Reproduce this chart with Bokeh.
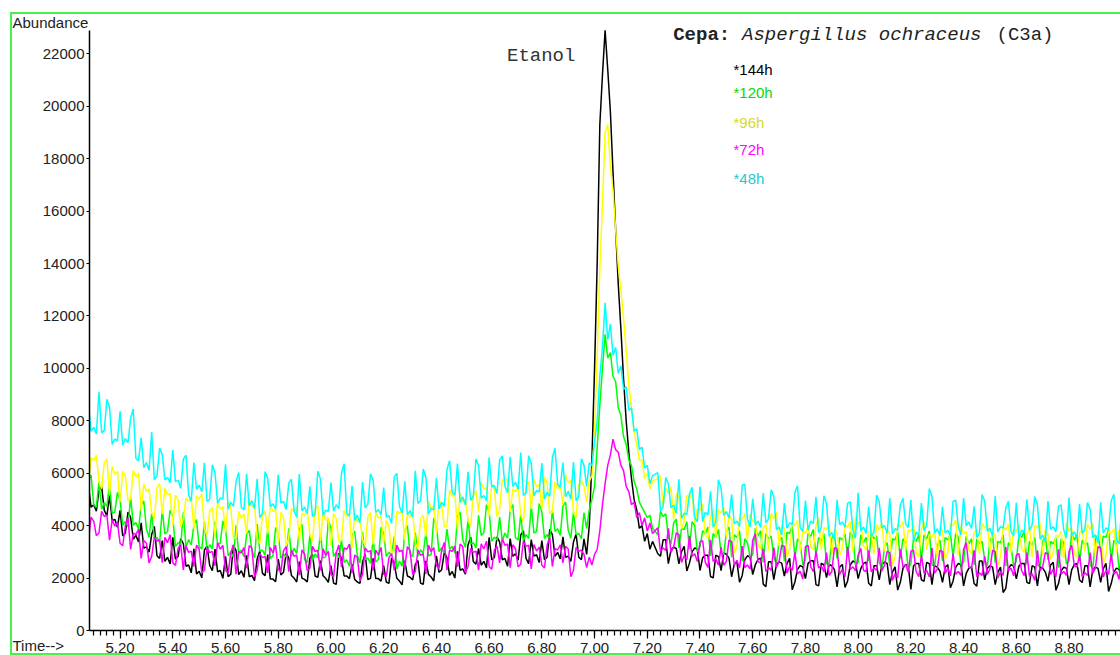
from bokeh.plotting import figure
from bokeh.models import (Range1d, SingleIntervalTicker, PrintfTickFormatter, Label, Title,
                          InlineStyleSheet)
from bokeh.embed import file_html
from bokeh.resources import INLINE

# ---------------- data ----------------
# baseline before the peak: samples every 0.01 min from 5.08 (on-grid + in-between readings)
# peak: every 0.01 min from 6.96 ; baseline after the peak: every 0.01 min from 7.24
PRE_START = 5.08
PEAK_START = 6.96
POST_START = 7.24
STEP = 0.01

h48_pre = [8630, 7750, 9110, 7640, 8520, 7300, 8360, 7320, 8100, 6570,
           7350, 6410, 7570, 5900, 6710, 5840, 6880, 5730, 6540, 5180,
           6410, 5540, 6400, 5020, 6020, 5060, 6340, 4890, 5680, 4700,
           5980, 4950, 5790, 4460, 5810, 4830, 5950, 4920, 5620, 4570,
           5970, 4710, 5500, 4450, 5780, 4590, 5640, 4800, 6010, 4470,
           5520, 4400, 5660, 4820, 5730, 4610, 5450, 4380, 5850, 4730,
           5690, 4570, 6090, 4950, 5860, 4650, 5820, 4890, 6130, 5270,
           6370, 5090, 6050, 5120, 6290, 5150, 6600, 5530, 6510, 5510,
           6630, 5650, 6790, 5250, 6370, 5340, 6390, 5270, 6600, 5570,
           6410, 5310, 6430, 5100]
h48_pre_mid = [7600, 7500, 7540, 8820, 7100, 7250, 7070, 7170, 8450, 6470,
               6210, 6110, 5750, 6960, 5740, 5640, 5680, 5430, 6690, 4930,
               5390, 5290, 4920, 6320, 4860, 5010, 4640, 4740, 6030, 4600,
               4750, 4650, 4310, 6060, 4730, 4630, 4870, 4620, 5770, 4320,
               4560, 4460, 4350, 6080, 4390, 4540, 4550, 4650, 6360, 4370,
               4200, 4100, 4670, 5980, 4510, 4410, 4330, 4080, 6000, 4480,
               4420, 4320, 4850, 6160, 4450, 4600, 4640, 4740, 6480, 5170,
               4890, 4790, 4970, 6540, 5050, 4950, 5480, 5230, 6660, 5260,
               5500, 5400, 5150, 6670, 5140, 5290, 5020, 5120, 6950, 5470,
               5110, 5010, 4950, 6550]
h48_peak = [6300, 5500, 6400, 6300, 7200, 8000, 9700, 10800, 12500, 11100,
            11700, 10500, 10800, 9800, 10100, 9200, 9300, 8400, 8500, 7600,
            7700, 6900, 7000, 6200, 6300, 5600, 5900]
h48_post = [6020, 4720, 5590, 4780, 5770, 4480, 5210, 4300, 5490, 4510,
            5310, 4140, 5450, 4540, 5190, 4170, 5530, 4250, 5030, 4180,
            5240, 4260, 5120, 3950, 4860, 4100, 5270, 3920, 4960, 4180,
            5100, 3930, 4840, 3740, 4990, 4140, 4860, 3820, 5250, 3950,
            4730, 3750, 4920, 4010, 5050, 3880, 4790, 4080, 4990, 3750,
            4860, 4010, 5120, 3880, 4730, 3820, 4920, 3950, 5050, 4140,
            4740, 3700, 4940, 3900, 5130, 3960, 4680, 3770, 4870, 3830,
            5000, 4030, 4810, 3640, 4940, 3960, 4740, 3830, 5070, 3770,
            4820, 3850, 4630, 3650, 4890, 3910, 4950, 3460, 4760]
h48_post_mid = [4570, 5840, 4680, 4480, 4280, 4430, 5460, 4150, 4160, 4410,
                3940, 5750, 4390, 4290, 4070, 3970, 5580, 3950, 4030, 3930,
                4110, 5370, 3850, 3650, 3900, 4050, 5520, 3770, 3830, 4080,
                3730, 5140, 3590, 3490, 4040, 3940, 4910, 3520, 3800, 3700,
                3600, 5170, 3910, 3710, 3680, 3830, 5040, 3930, 3400, 3650,
                3810, 5420, 3730, 3630, 3720, 3620, 4970, 3650, 3990, 3890,
                3550, 5190, 3800, 3600, 3760, 3910, 4930, 3620, 3480, 3730,
                3830, 5110, 3490, 3390, 3860, 3760, 4790, 3530, 3620, 3520,
                3700, 4880, 3550, 3350, 3710, 3860, 5200, 3310]

h96_pre = [5580, 6490, 5660, 6400, 5220, 5960, 4900, 5880, 5000, 5860,
           4560, 5300, 4480, 5450, 4440, 5180, 3990, 4970, 4260, 4940,
           3870, 5020, 3890, 4550, 3600, 4630, 3730, 4700, 3560, 4290,
           3690, 4710, 3520, 4420, 3700, 4540, 3350, 4310, 3530, 4550,
           3410, 4380, 3660, 4620, 3420, 4200, 3250, 4270, 3440, 4340,
           3140, 4160, 3450, 4350, 3270, 4290, 3330, 3990, 3200, 4460,
           3440, 4330, 3360, 4250, 3580, 4650, 3670, 4790, 4000, 5120,
           3850, 4910, 4180, 5180, 4510, 5400, 4360, 5370, 4640, 5660,
           4520, 5300, 4400, 5540, 4640, 5480, 4630, 5650, 4510, 5410,
           4800, 5640, 4500, 5570]
h96_pre_mid = [6590, 6690, 5410, 6550, 6260, 6060, 6080, 4950, 6110, 6010,
               5600, 5400, 4280, 5600, 5430, 5230, 5170, 3960, 5040, 5090,
               5120, 5220, 3640, 4700, 4930, 4730, 4900, 3510, 4540, 4440,
               5010, 4810, 3320, 4570, 4790, 4590, 4510, 3230, 4650, 4700,
               4480, 4580, 3410, 4770, 4500, 4300, 4470, 3390, 4590, 4490,
               4460, 4260, 3250, 4500, 4540, 4340, 4190, 2900, 4560, 4610,
               4430, 4530, 3110, 4400, 4950, 4750, 4990, 3950, 5370, 5270,
               5210, 5010, 3980, 5330, 5650, 5450, 5570, 4340, 5760, 5810,
               5400, 5500, 4150, 5690, 5780, 5580, 5850, 4460, 5660, 5560,
               5940, 5740, 4300, 5720]
h96_peak = [5500, 4900, 5700, 5900, 7600, 10500, 13800, 16300, 19000, 19300,
            17700, 16800, 15300, 13900, 13000, 11900, 10700, 9400, 8500, 7600,
            7100, 6500, 6500, 5800, 6000, 5400, 5700]
h96_post = [5800, 4770, 5230, 4250, 5090, 4170, 5060, 4080, 4580, 3660,
            4320, 3560, 4500, 3570, 4240, 3200, 4250, 3480, 4140, 3270,
            3930, 3050, 4260, 3220, 3880, 3110, 4000, 3010, 3720, 3230,
            4000, 3070, 3840, 2900, 3730, 3120, 3950, 3010, 4060, 3230,
            3730, 2910, 3840, 3020, 3680, 2800, 3950, 3070, 3790, 2960,
            3850, 3080, 3570, 2800, 3790, 2970, 4010, 2860, 3680, 3080,
            3740, 2910, 3900, 3020, 3630, 2800, 3850, 2970, 3790, 3130,
            3630, 2810, 3910, 2860, 3690, 2970, 3580, 2750, 3800, 2920,
            3740, 3030, 3850, 2810, 3630, 2860, 3690, 2970, 3800]
h96_post_mid = [5900, 5430, 5480, 5240, 3870, 5160, 5260, 4630, 4830, 3510,
                4620, 4600, 4700, 4390, 2950, 4300, 4450, 4440, 4240, 3120,
                4030, 4460, 4510, 4030, 2810, 4100, 4200, 3770, 3970, 3080,
                4300, 3940, 4040, 3880, 2870, 4000, 4150, 4360, 4160, 3080,
                3830, 4040, 4090, 3830, 2500, 4050, 4150, 3840, 4040, 2810,
                4150, 3670, 3770, 3940, 2720, 4060, 4210, 3980, 3780, 2930,
                3840, 4100, 4150, 3780, 2500, 3950, 4050, 3840, 4040, 2980,
                3930, 4010, 4110, 3840, 2720, 3630, 3780, 4100, 3900, 2770,
                3840, 4050, 4100, 3780, 2560, 3790, 3890, 3850]

h120_pre = [5730, 4800, 5690, 4880, 5610, 4520, 4970, 4160, 5100, 4120,
            4790, 3860, 4480, 3550, 4600, 3780, 4340, 3350, 4510, 3470,
            4030, 3210, 4140, 3270, 4150, 3330, 3880, 3000, 4000, 3060,
            3670, 3070, 4060, 3070, 3840, 2850, 3680, 2910, 3900, 3130,
            3850, 2700, 3630, 2920, 3740, 2810, 3910, 2980, 3470, 2700,
            3640, 2870, 3750, 2760, 3480, 2710, 3700, 2980, 3580, 2650,
            3800, 2920, 3740, 3080, 3730, 2900, 3990, 3160, 3870, 3210,
            4360, 3470, 4240, 3350, 4390, 3730, 4550, 3560, 4330, 3720,
            4600, 3550, 4430, 3660, 4760, 3770, 4540, 3660, 4590, 3880,
            4750, 3820, 4530, 3700]
h120_pre_mid = [5930, 4700, 4630, 4730, 4470, 5270, 4010, 3960, 4020, 3870,
                4940, 3560, 3500, 3350, 3680, 4590, 3200, 3250, 3170, 3270,
                4230, 3110, 3020, 3120, 3280, 4180, 2850, 2800, 2960, 2810,
                3820, 2770, 3020, 2870, 2750, 3930, 2760, 2810, 2830, 2930,
                4050, 2600, 2670, 2770, 2760, 4210, 2830, 2780, 2600, 2450,
                3790, 2570, 2710, 2560, 2610, 3950, 2830, 2880, 2350, 2450,
                4000, 2820, 2830, 2930, 2850, 4290, 3010, 2960, 3110, 2960,
                4510, 3170, 3300, 3150, 3630, 4800, 3410, 3460, 3420, 3520,
                4800, 3450, 3410, 3510, 3720, 4840, 3510, 3460, 3780, 3630,
                4900, 3520, 3650, 3500]
h120_peak = [4500, 3900, 4600, 5000, 5500, 7000, 8600, 10000, 11300, 10400,
             10600, 9700, 9500, 8500, 8200, 7400, 7100, 6500, 6300, 5700,
             5400, 4900, 4700, 4500, 4300, 4400, 3900]
h120_post = [3650, 4350, 3550, 4100, 3150, 3850, 3100, 4000, 3200, 3700,
             2850, 3550, 2950, 3750, 2800, 3550, 2650, 3350, 2900, 3600,
             2600, 3500, 2800, 3400, 2650, 3700, 2750, 3350, 2700, 3600,
             2850, 3400, 2550, 3500, 2750, 3450, 2800, 3600, 2600, 3350,
             2650, 3500, 2600, 3200, 2450, 3450, 2750, 3350, 2550, 3400,
             2700, 3500, 2500, 3250, 2650, 3450, 2800, 3550, 2600, 3300,
             2500, 3300, 2700, 3450, 2600, 3350, 2450, 3200, 2650, 3550,
             2550, 3250, 2500, 3400, 2700, 3300, 2400, 3350, 2650, 3450,
             2650, 3250, 2550, 3500, 3000, 3550, 2650, 3300, 2550]
h120_post_mid = [4550, 4450, 3300, 4250, 3900, 4150, 4150, 3000, 3800, 3950,
                 3700, 3850, 2900, 3950, 3650, 3800, 3500, 2800, 3900, 3800,
                 3700, 3600, 2550, 3550, 3750, 4000, 3500, 2500, 3700, 3850,
                 3550, 3700, 2500, 3700, 3550, 3700, 3750, 2500, 3650, 3550,
                 3700, 3600, 2350, 3350, 3500, 3750, 3500, 2350, 3500, 3650,
                 3650, 3800, 2450, 3450, 3550, 3700, 3700, 2500, 3600, 3500,
                 3500, 3400, 2450, 3600, 3400, 3650, 3350, 2450, 3650, 3800,
                 3400, 3550, 2450, 3600, 3400, 3550, 3500, 2550, 3750, 3650,
                 3450, 3350, 2300, 3650, 3600, 3850, 3450, 2350]

h72_pre = [3440, 4170, 3720, 4350, 3450, 3980, 3330, 4000, 3090, 3660,
           2750, 3330, 2830, 3410, 2590, 3350, 2580, 3120, 2310, 2980,
           2440, 3110, 2300, 2970, 2470, 3100, 2290, 2970, 2150, 2960,
           2380, 3140, 2290, 2780, 2200, 2960, 2330, 3050, 2240, 2830,
           2110, 2920, 2380, 3010, 2290, 2870, 2150, 2960, 2420, 3100,
           2190, 2780, 2150, 3000, 2280, 2870, 2150, 2780, 2290, 3010,
           2380, 3050, 2240, 2870, 2160, 3010, 2470, 3060, 2300, 3020,
           2430, 3200, 2440, 2980, 2300, 3110, 2440, 3070, 2580, 3250,
           2400, 3120, 2530, 3210, 2350, 3030, 2490, 3250, 2440, 3070,
           2580, 3110, 2300, 3020]
h72_pre_mid = [4320, 3620, 4550, 4400, 4230, 4130, 3230, 4300, 3710, 3860,
               3430, 2580, 3560, 3460, 3550, 3650, 2480, 3270, 3230, 3030,
               3260, 2200, 3170, 3020, 3350, 3250, 2190, 3270, 3010, 3160,
               3240, 2040, 2930, 2830, 3160, 3260, 2230, 3200, 3080, 2880,
               3070, 2280, 3210, 3060, 3120, 3020, 2050, 3260, 3150, 3300,
               2880, 1900, 3150, 3050, 3070, 3170, 2050, 2930, 3260, 3060,
               3200, 2140, 3070, 2920, 3260, 3160, 2370, 3360, 3070, 3220,
               3300, 2190, 3130, 3030, 3310, 3410, 2340, 3220, 3500, 3300,
               3270, 2430, 3410, 3260, 3280, 3180, 2390, 3550, 3120, 3270,
               3210, 2050, 3170, 3070]
h72_peak = [2900, 2400, 2800, 2500, 2900, 3100, 3800, 4800, 5600, 6300,
            6700, 7300, 6900, 6800, 6300, 6100, 5500, 5300, 4800, 4900,
            4300, 4500, 4000, 4300, 3800, 4100, 3700]
h72_post = [3920, 3150, 3900, 3180, 3670, 2850, 3610, 2930, 3380, 2610,
            3460, 2740, 3180, 2640, 3400, 2680, 3220, 2500, 3440, 2630,
            3120, 2400, 3160, 2620, 3210, 2440, 2980, 2260, 3200, 2440,
            3020, 2480, 2970, 2250, 3110, 2340, 3200, 2430, 2880, 2300,
            3060, 2390, 3150, 2480, 2970, 2160, 3110, 2520, 3020, 2250,
            2880, 2290, 3150, 2340, 3010, 2380, 2920, 2250, 3100, 2430,
            3060, 2200, 2830, 2340, 3010, 2250, 3190, 2380, 2880, 2290,
            2970, 2160, 3060, 2430, 2920, 2340, 3100, 2250, 3010, 2470,
            2880, 2200, 2970, 2380, 3150, 2290, 2920, 2250, 3010]
h72_post_mid = [3000, 3050, 2980, 3720, 2600, 2700, 2830, 2630, 3430, 2410,
                2640, 2490, 2490, 3450, 2480, 2380, 2400, 2350, 3690, 2580,
                2250, 2300, 2420, 3260, 2190, 2290, 2160, 1960, 3250, 2240,
                2380, 2230, 2100, 3160, 2140, 2040, 2330, 2280, 3130, 2250,
                2240, 2290, 2280, 3020, 1910, 2010, 2420, 2220, 3070, 2050,
                2190, 2040, 2190, 3060, 2180, 2080, 2150, 2100, 3350, 2380,
                2050, 2100, 2140, 3060, 2000, 2100, 2280, 2080, 2930, 2090,
                2060, 1910, 2280, 2970, 2140, 2040, 2150, 2100, 3260, 2420,
                2050, 2100, 2180, 3200, 2040, 2140, 2150, 1950]

h144_pre = [5530, 4800, 5360, 4580, 5150, 4240, 4580, 3710, 4320, 3630,
            4110, 3190, 3670, 2850, 3430, 2790, 3550, 2820, 3310, 2500,
            3120, 2260, 3070, 2480, 3110, 2290, 2830, 2150, 3050, 2280,
            2870, 2100, 2730, 2190, 2900, 1960, 2720, 2220, 2760, 2000,
            2630, 1950, 2760, 2080, 2670, 1990, 2480, 1760, 2750, 2080,
            2520, 1850, 2610, 1940, 2750, 1980, 2480, 1800, 2570, 1890,
            2660, 2030, 2520, 1810, 2660, 2040, 2850, 2320, 2780, 2250,
            3020, 2350, 3260, 2630, 3130, 2640, 3550, 2790, 3370, 2750,
            3510, 2930, 3650, 2750, 3470, 2890, 3430, 2800, 3660, 2980,
            3570, 2840, 3380, 2800]
h144_pre_mid = [4700, 4550, 5510, 4380, 4190, 3940, 3610, 4520, 3480, 3380,
                3140, 2990, 3970, 2750, 2640, 2540, 2720, 3510, 2450, 2200,
                2160, 2010, 3220, 2280, 2240, 1990, 2050, 3250, 2130, 2030,
                2050, 1900, 3030, 2090, 1960, 1860, 2120, 2960, 2100, 1850,
                2000, 1850, 2910, 2030, 2090, 1840, 1810, 2950, 2080, 1980,
                1950, 1800, 2910, 1990, 1980, 1880, 1850, 2770, 1990, 1740,
                2080, 1930, 2670, 1760, 2140, 1890, 2220, 2980, 2100, 2000,
                2300, 2150, 3560, 2530, 2490, 2390, 2690, 3570, 2700, 2450,
                2830, 2680, 3800, 2550, 2840, 2590, 2700, 3860, 2830, 2730,
                2790, 2640, 3680, 2700]
h144_peak = [3500, 2900, 4000, 6500, 10000, 14000, 19300, 21200, 22900, 21400,
             19800, 17500, 15300, 13200, 11500, 9600, 8000, 6800, 5800, 5000,
             4600, 3900, 4000, 3400, 3700, 3100, 3400]
h144_post = [2930, 3460, 2550, 3180, 2540, 3210, 2570, 3150, 2290, 2870,
             2060, 2870, 2280, 2910, 2050, 2630, 2090, 2850, 2130, 2710,
             1770, 2620, 1940, 2620, 2080, 2750, 1850, 2480, 1980, 2660,
             1750, 2560, 2020, 2470, 1660, 2520, 1890, 2650, 1980, 2560,
             1800, 2470, 1930, 2610, 1750, 2430, 1840, 2520, 1570, 2560,
             1930, 2600, 1750, 2420, 1840, 2510, 1880, 2560, 1700, 2380,
             1790, 2650, 1930, 2470, 1750, 2420, 1610, 2510, 1970, 2560,
             1840, 2470, 1700, 2380, 1880, 2600, 1790, 2420, 1750, 2510,
             1930, 2470, 1660, 2420, 1840, 2560, 1790, 2380, 1880]
h144_post_mid = [2830, 3460, 3080, 3130, 3010, 2270, 3000, 3100, 2770, 2870,
                 2010, 2820, 2960, 2760, 2530, 1840, 2700, 2800, 2510, 2760,
                 1670, 2620, 2520, 2570, 2550, 1550, 2330, 2430, 2560, 2660,
                 1700, 2510, 2520, 2320, 2420, 1640, 2500, 2600, 2360, 2610,
                 1700, 2470, 2510, 2560, 2230, 1540, 2370, 2470, 2460, 2560,
                 1880, 2550, 2470, 2270, 2410, 1630, 2410, 2510, 2180, 2430,
                 1690, 2650, 2370, 2420, 2220, 1450, 2360, 2460, 2460, 2560,
                 1790, 2420, 2430, 2230, 2500, 1540, 2270, 2370, 2310, 2560,
                 1830, 2470, 2320, 2370, 2360, 1490, 2230, 2330]

series_labels = ["*144h", "*120h", "*96h", "*72h", "*48h"]
line_colors = ["#000000", "#00ff00", "#ffff00", "#ff00ff", "#00ffff"]
label_colors = ["#000000", "#00dd00", "#d8d830", "#ff00ff", "#22cccc"]
series = [
    (h144_pre, h144_pre_mid, h144_peak, h144_post, h144_post_mid),
    (h120_pre, h120_pre_mid, h120_peak, h120_post, h120_post_mid),
    (h96_pre, h96_pre_mid, h96_peak, h96_post, h96_post_mid),
    (h72_pre, h72_pre_mid, h72_peak, h72_post, h72_post_mid),
    (h48_pre, h48_pre_mid, h48_peak, h48_post, h48_post_mid),
]

# ---------------- layout ----------------
W, H = 1120, 655
ML, MT, MB = 89, 13, 25          # frame: x 89..1120, y 13..630 (axis line drawn from y=30)
FRAME_W = W - ML
FRAME_H = H - MT - MB
X0 = 5.084
SX = 263.6                        # px per minute
AXIS_TOP = 22890                  # value at y=30, where the y axis line ends
SY = 600 / AXIS_TOP               # px per abundance unit
Y1 = FRAME_H / SY

def dx(px):                       # canvas pixel -> data x
    return X0 + (px - ML) / SX

def dy(py):                       # canvas pixel -> data y
    return (MT + FRAME_H - py) / SY

SANS = "Liberation Sans"
MONO = "Liberation Mono"

border_css = InlineStyleSheet(css="""
:host { position: relative; }
:host::after {
  content: "";
  position: absolute;
  left: 10px; top: 12px;
  width: 1110px; height: 643px;
  border-left: 2px solid #4cf04c;
  border-top: 2px solid #4cf04c;
  border-bottom: 2px solid #4cf04c;
  box-sizing: border-box;
  pointer-events: none;
}
""")

p = figure(width=W, height=H, output_backend="svg", toolbar_location=None,
           title="Abundance", min_border_left=ML, min_border_right=0,
           min_border_top=MT, min_border_bottom=MB,
           x_range=Range1d(X0, X0 + FRAME_W / SX), y_range=Range1d(0, Y1),
           stylesheets=[border_css])
p.outline_line_color = None
p.xgrid.visible = False
p.ygrid.visible = False
p.background_fill_color = "white"
p.border_fill_color = "white"

p.title.align = "left"
p.title.offset = -77
p.title.standoff = -34
p.title.vertical_align = "bottom"
p.title.text_font = SANS
p.title.text_font_size = "15px"
p.title.text_font_style = "normal"
p.title.text_color = "#222222"

def interleave(on_grid, between):
    out = []
    for i, val in enumerate(on_grid):
        out.append(val)
        if i < len(between):
            out.append(between[i])
    return out

def times(start, n):
    return [round(start + STEP * i, 3) for i in range(n)]

for (pre, pre_mid, peak, post, post_mid), col in zip(series, line_colors):
    a = interleave(pre, pre_mid)
    b = list(peak)
    c = interleave(post, post_mid)
    t = times(PRE_START, len(a)) + times(PEAK_START, len(b)) + times(POST_START, len(c))
    p.line(t, a + b + c, line_color=col, line_width=1.5)

xa = p.xaxis[0]
xa.ticker = SingleIntervalTicker(interval=0.2, num_minor_ticks=8)
xa.formatter = PrintfTickFormatter(format="%.2f")
xa.major_tick_out = 8
xa.major_tick_in = 0
xa.minor_tick_out = 5
xa.minor_tick_in = 0
xa.major_label_standoff = 4
xa.axis_line_width = 1.5
xa.major_tick_line_width = 1.2
xa.minor_tick_line_width = 1.2
xa.major_label_text_font = SANS
xa.major_label_text_font_size = "15px"
xa.major_label_text_color = "#222222"

ya = p.yaxis[0]
ya.ticker = SingleIntervalTicker(interval=2000, num_minor_ticks=0)
ya.bounds = (0, AXIS_TOP)
ya.major_tick_out = 3
ya.major_tick_in = 0
ya.minor_tick_line_color = None
ya.major_label_standoff = 2
ya.axis_line_width = 1.5
ya.major_label_text_font = SANS
ya.major_label_text_font_size = "15px"
ya.major_label_text_color = "#222222"

# "Time-->" sits in the bottom panel, on the row of the tick labels
p.add_layout(Title(text="Time-->", align="left", offset=-77, standoff=-38,
                   vertical_align="top", text_font=SANS, text_font_size="15px",
                   text_font_style="normal", text_color="#222222"), "below")

def add_text(px, py, text, font, size, color, style="normal"):
    p.add_layout(Label(x=dx(px), y=dy(py), text=text, text_font=font,
                       text_font_size=size, text_color=color, text_font_style=style,
                       text_align="left", text_baseline="middle"))

add_text(506.5, 55, "Etanol", MONO, "19px", "#333333")
add_text(672.7, 34, "Cepa:", MONO, "19px", "#222222", style="bold")
add_text(741.5, 34, "Aspergillus ochraceus", MONO, "19px", "#222222", style="italic")
add_text(996, 34, "(C3a)", MONO, "19px", "#222222")

legend_centers = [69, 92, 121.5, 148.5, 178]
for lab, col, yc in zip(series_labels, label_colors, legend_centers):
    add_text(733, yc, lab, SANS, "15px", col)

open("out.html", "w").write(file_html(p, INLINE))
